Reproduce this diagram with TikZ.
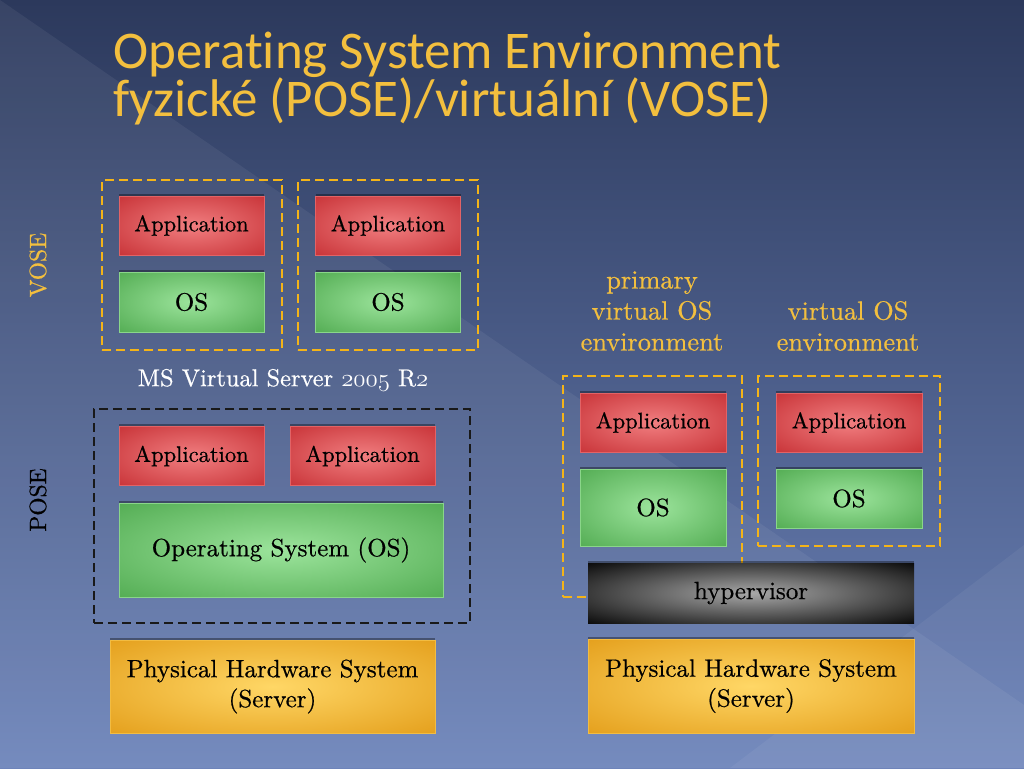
\documentclass[tikz,border=0pt]{standalone}
\usepackage{fontspec}
\setmainfont{lmroman10-regular.otf}[FakeBold=0.6]
\newfontfamily\titlefont[Ligatures=NoCommon]{Carlito}
\usetikzlibrary{shadows,positioning}
\newcommand\oldnum[1]{{\fontencoding{OML}\fontfamily{lmm}\fontshape{it}\selectfont#1}}

\definecolor{bgtop}{HTML}{2C395C}
\definecolor{bgbot}{HTML}{6D84BA}
\definecolor{gold}{HTML}{F3BF3E}
\definecolor{dashgold}{HTML}{F4B418}
\definecolor{appin}{HTML}{F17E80}
\definecolor{appout}{HTML}{BF2328}
\definecolor{osin}{HTML}{9CE49C}
\definecolor{osout}{HTML}{43A043}
\definecolor{hwin}{HTML}{FFD766}
\definecolor{hwout}{HTML}{DE930C}
\definecolor{hyin}{HTML}{A8A8A8}
\pgfdeclareradialshading{appglow}{\pgfpointorigin}{color(0bp)=(appin); color(44bp)=(appout); color(50bp)=(appout)}
\pgfdeclareradialshading{osglow}{\pgfpointorigin}{color(0bp)=(osin); color(44bp)=(osout); color(50bp)=(osout)}
\pgfdeclareradialshading{hwglow}{\pgfpointorigin}{color(0bp)=(hwin); color(44bp)=(hwout); color(50bp)=(hwout)}
\pgfdeclareradialshading{hyglow}{\pgfpointorigin}{color(0bp)=(hyin); color(38bp)=(black); color(50bp)=(black)}

\begin{document}
\begin{tikzpicture}[x=1pt,y=-1pt,
  layer/.style={inner sep=0pt,align=center,line width=.8pt,
    font=\fontsize{25}{30}\selectfont,
    drop shadow={shadow xshift=0pt,shadow yshift=2.5pt,opacity=.35,fill=black}},
  app/.style={layer,minimum width=145pt,minimum height=59pt,shading=appglow,
    draw=appin!70!appout,font=\fontsize{22.5}{28}\selectfont},
  os/.style={layer,minimum width=145pt,shading=osglow,draw=osin!80!osout},
  hw/.style={layer,minimum width=325pt,minimum height=93pt,shading=hwglow,draw=hwin!60!hwout},
  hyper/.style={layer,minimum width=326pt,minimum height=60pt,shading=hyglow},
  env/.style={draw=dashgold,line width=2.5pt,dash pattern=on 9pt off 5pt,inner sep=0pt},
  side/.style={rotate=90,font=\fontsize{23.5}{24}\selectfont},
  caption/.style={text=gold,align=center,font=\fontsize{26.3}{31}\selectfont},
  title/.style={anchor=base west,text=gold,font=\titlefont\fontsize{53}{53}\selectfont}]

\fill[top color=bgtop,bottom color=bgbot] (0,0) rectangle (1024,768);
\fill[white,opacity=.06] (0,0) -- (1024,705) -- (1024,768) -- (0,768) -- cycle;
\fill[white,opacity=.05] (730,768) -- (1024,545) -- (1024,768) -- cycle;

\node[title] (title1) at (110,68) {Operating System Environment};
\node[title] (title2) at (110,116) {fyzické (POSE)/virtuální (VOSE)};

\node[side,text=gold] (vose) at (38,265) {VOSE};
\node[env,minimum width=180pt,minimum height=170pt] (vm1) at (192,265) {};
\node[env,minimum width=180pt,minimum height=170pt] (vm2) at (388,265) {};
\node[app] (app1) at (191.5,225.5) {Application};
\node[os,minimum height=60pt] (os1) at (191.5,302) {OS};
\node[app] (app2) at (388,225.5) {Application};
\node[os,minimum height=60pt] (os2) at (388,302) {OS};
\node[text=white,font=\fontsize{24.4}{26}\selectfont] (msvs) at (283,380) {MS Virtual Server \oldnum{2005} R\oldnum{2}};

\node[side] (pose) at (38,500) {POSE};
\node[env,draw=black!90,minimum width=376pt,minimum height=214pt] (phys) at (282,516) {};
\node[app] (app3) at (191.5,456) {Application};
\node[app] (app4) at (362.5,456) {Application};
\node[os,minimum width=324pt,minimum height=94pt] (os3) at (281,550) {Operating System (OS)};
\node[hw] (hw1) at (272.5,686.5) {Physical Hardware System\\(Server)};

\node[caption] (cap1) at (652,311) {primary\\virtual OS\\environment};
\node[caption] (cap2) at (848,326) {virtual OS\\environment};
\node[env,minimum width=179pt,minimum height=221pt] (vm3) at (652.5,486.5) {};
\node[env,minimum width=182pt,minimum height=170pt] (vm4) at (849,461) {};
\node[app,minimum width=146pt] (app5) at (653,422.5) {Application};
\node[os,minimum width=146pt,minimum height=77pt] (os5) at (653,507.5) {OS};
\node[app,minimum width=146pt] (app6) at (849,422.5) {Application};
\node[os,minimum width=146pt,minimum height=59pt] (os6) at (849,498.5) {OS};
\node[hyper] (hyp) at (751,593) {hypervisor};
\node[hw,minimum width=326pt,minimum height=94pt] (hw2) at (751,686) {Physical Hardware System\\(Server)};
\end{tikzpicture}
\end{document}
